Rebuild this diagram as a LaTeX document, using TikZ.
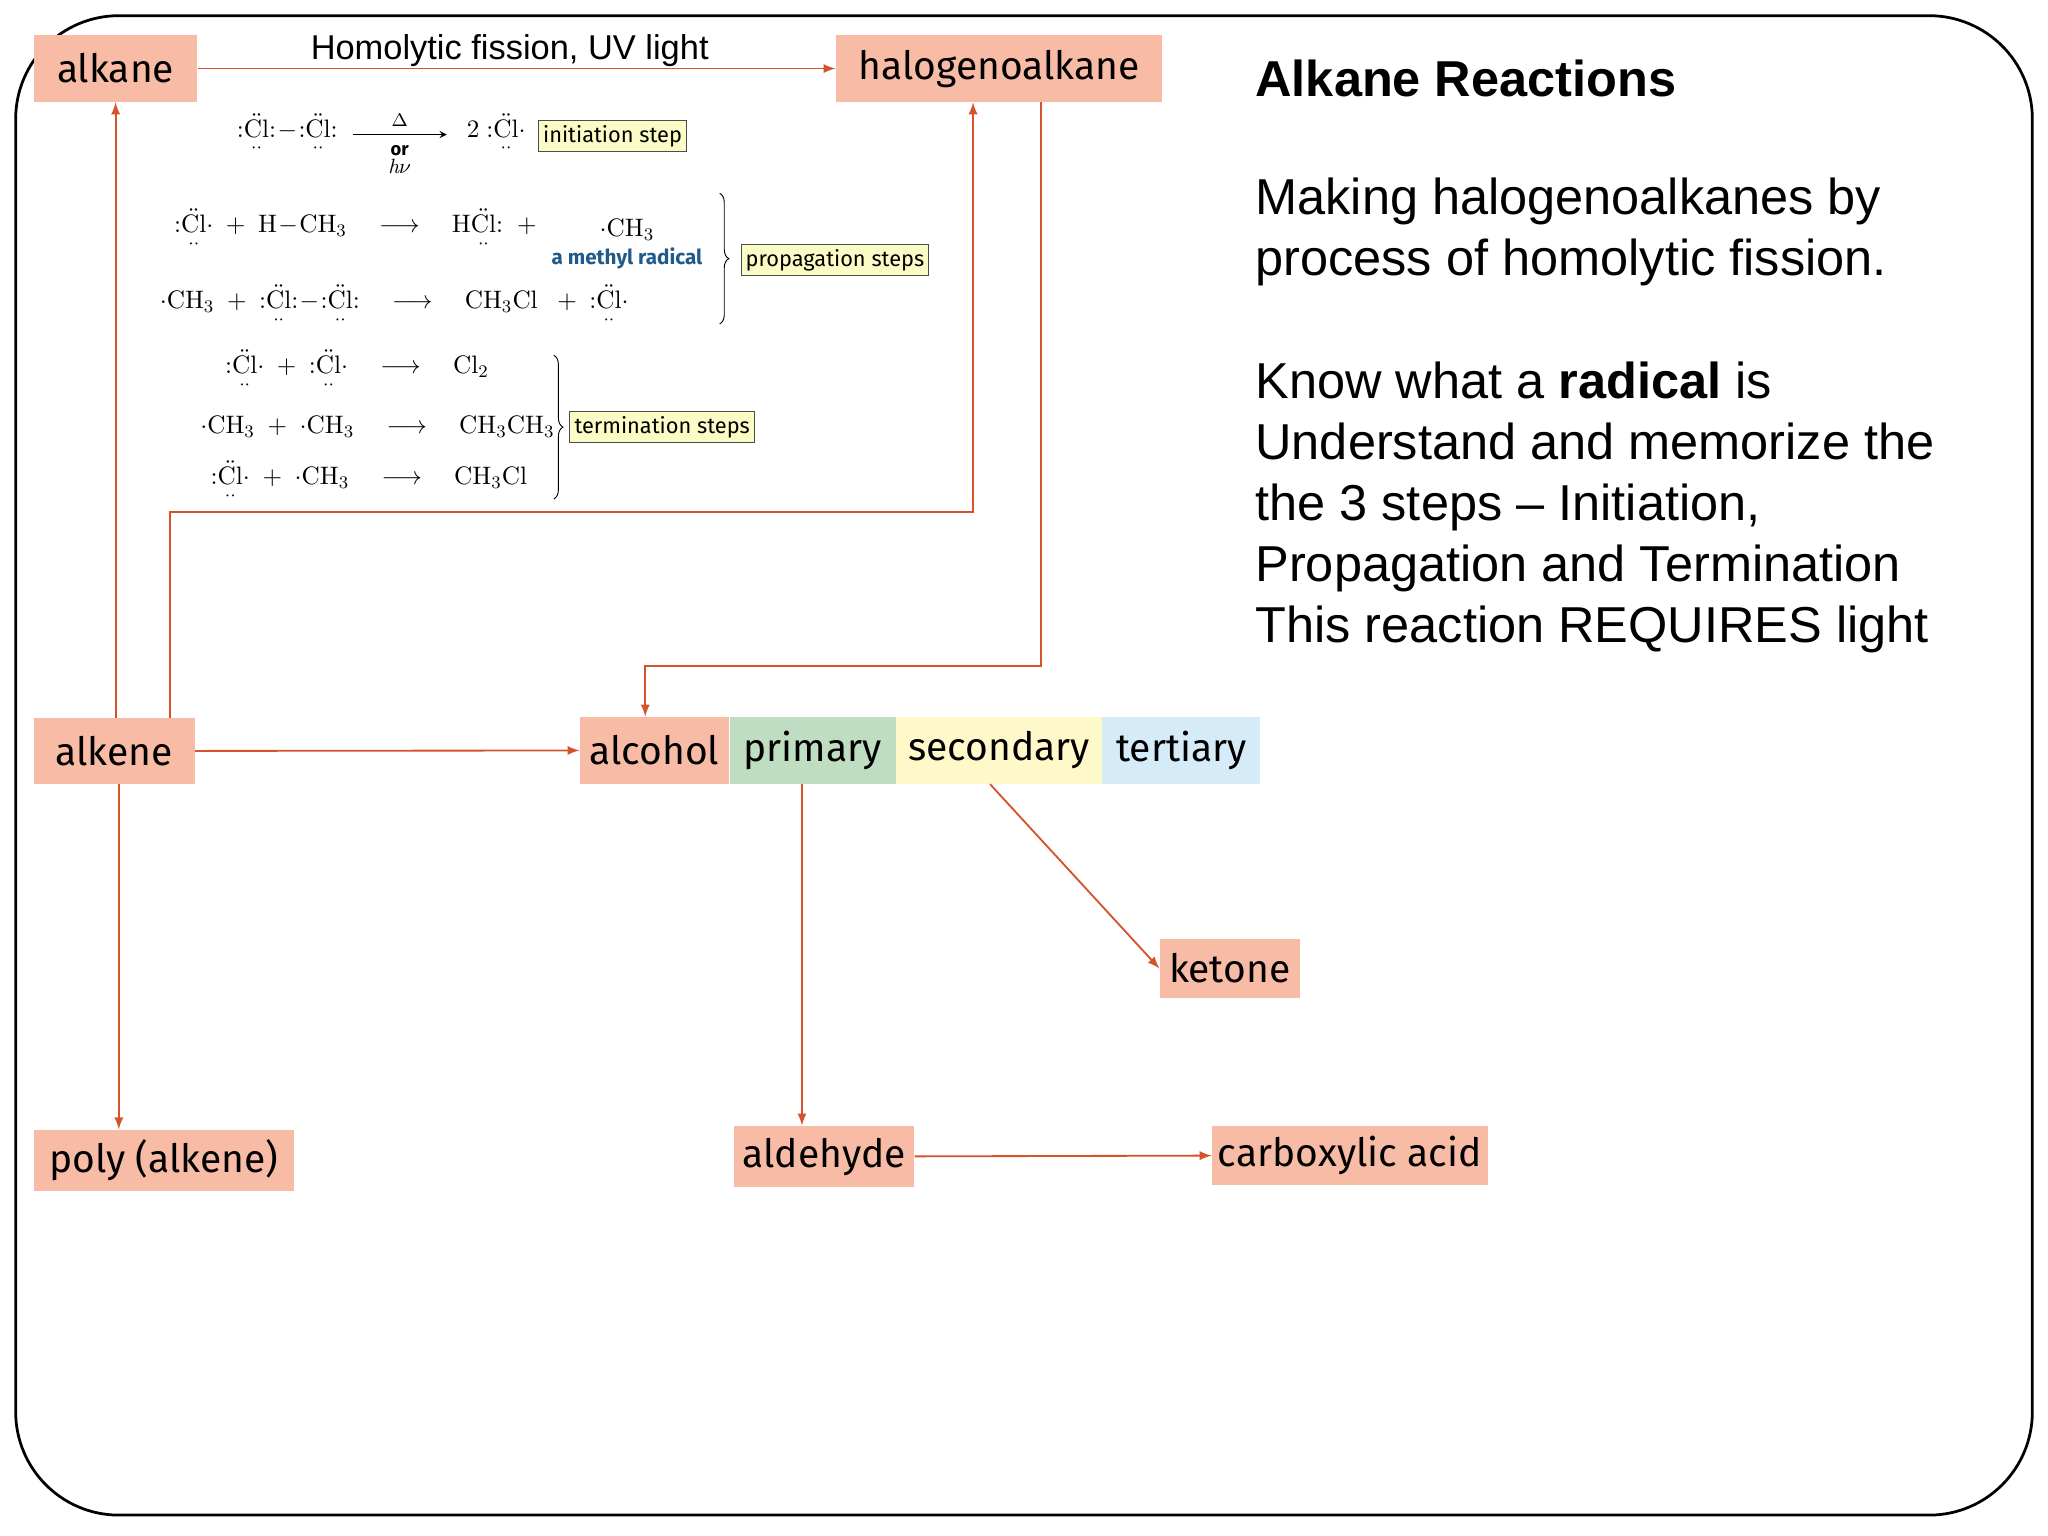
\documentclass[tikz,border=0pt]{standalone}
\usepackage{amsmath}
\usepackage{fontspec}
\setmainfont{Latin Modern Roman}
\newfontfamily\labelfont{Fira Sans}
\newfontfamily\arialfont{Liberation Sans}
\usetikzlibrary{positioning,decorations.pathreplacing}
\definecolor{salmon}{HTML}{F8BBA5}
\definecolor{arrowred}{HTML}{D4532C}
\definecolor{primgreen}{HTML}{BFDDC0}
\definecolor{secyellow}{HTML}{FFF8C8}
\definecolor{tertblue}{HTML}{D6EBF8}
\definecolor{stepfill}{HTML}{FBFBC6}
\definecolor{radblue}{HTML}{1F5A8A}
\newcommand\chl{\mathord{:}\underset{\cdot\cdot}{\ddot{\mathrm{Cl}}}}
\newcommand\chlr{\chl\mathord{\cdot}}
\newcommand\chlc{\chl\mathord{:}}
\begin{document}
\begin{tikzpicture}[x=0.02cm, y=-0.02cm,
  compound/.style={fill=salmon, inner sep=0pt, font=\labelfont\fontsize{17}{20}\selectfont},
  arrow/.style={-latex, arrowred, thick},
  stepbox/.style={draw=black!70, fill=stepfill, inner sep=2pt, font=\labelfont\fontsize{9.5}{11}\selectfont},
  eq/.style={font=\fontsize{11}{13}\selectfont, inner sep=0pt},
  body/.style={anchor=west, align=left, font=\arialfont\fontsize{22}{26.6}\selectfont}
]
\useasboundingbox (0,0) rectangle (1568,1176);
\draw[line width=1.2pt, rounded corners=45] (12,12) rectangle (1556,1160);

% compounds
\node[compound, minimum width=2.5cm, minimum height=1.02cm] (alkane) at (88.5,52.5) {alkane};
\node[compound, minimum width=5cm, minimum height=1.02cm] (halo) at (765,52.5) {halogenoalkane};
\node[compound, minimum width=2.46cm, minimum height=1cm] (alkene) at (87.5,575) {alkene};
\node[compound, minimum width=2.28cm, minimum height=1.02cm] (alcohol) at (501,574.5) {alcohol};
\node[compound, fill=primgreen, minimum width=2.54cm, minimum height=1.02cm, right=0pt of alcohol] (primary) {primary};
\node[compound, fill=secyellow, minimum width=3.14cm, minimum height=1.02cm, right=0pt of primary] (secondary) {secondary};
\node[compound, fill=tertblue, minimum width=2.42cm, minimum height=1.02cm, right=0pt of secondary] (tertiary) {tertiary};
\node[compound, minimum width=2.14cm, minimum height=0.9cm] (ketone) at (941.5,741.5) {ketone};
\node[compound, minimum width=3.98cm, minimum height=0.94cm] (poly) at (125.5,888.5) {poly (alkene)};
\node[compound, minimum width=2.76cm, minimum height=0.94cm] (aldehyde) at (631,885.5) {aldehyde};
\node[compound, minimum width=4.22cm, minimum height=0.9cm] (acid) at (1033.5,884.5) {carboxylic acid};

% connectors
\draw[arrow] (alkane) -- node[above=-3pt, black, font=\arialfont\fontsize{15}{18}\selectfont, xshift=-3pt]{Homolytic fission, UV light} (halo);
\draw[arrow] (alkene.north -| alkane) -- (alkane);
\draw[arrow] (alkene) -- (alcohol);
\coordinate (c1) at (130,392);
\coordinate (c2) at (745,392);
\draw[arrow] (alkene.north -| c1) -- (c1) -- (c2) -- (halo.south -| c2);
\coordinate (c3) at (797,510);
\coordinate (c4) at (494,510);
\draw[arrow] (halo.south -| c3) -- (c3) -- (c4) -- (alcohol.north -| c4);
\coordinate (c5) at (91,0);
\coordinate (c6) at (614,0);
\coordinate (c7) at (758,0);
\draw[arrow] (alkene.south -| c5) -- (poly.north -| c5);
\draw[arrow] (primary.south -| c6) -- (aldehyde.north -| c6);
\draw[arrow] (secondary.south -| c7) -- (ketone.west);
\draw[arrow] (aldehyde) -- (acid);

% mechanism
\node[eq] (r1a) at (220,103) {$\chlc\!-\!\chlc$};
\draw[-stealth] (270,103) -- (342,103);
\node[eq, font=\fontsize{8}{9}\selectfont] at (306,92) {$\Delta$};
\node[eq, font=\labelfont\bfseries\fontsize{8}{9}\selectfont, align=center] at (306,122) {or\\[-1pt]\normalfont\itshape\fontsize{9}{9}\selectfont h$\nu$};
\node[eq] (r1b) at (380,103) {$2\;\chlr$};
\node[stepbox, anchor=west] (init) at (412,104) {initiation step};

\node[eq, anchor=west] (r2a) at (133,176) {$\chlr\;+\;\mathrm{H}\!-\!\mathrm{CH_3}\quad\longrightarrow\quad\mathrm{H}\underset{\cdot\cdot}{\ddot{\mathrm{Cl}}}\mathord{:}\;\;+$};
\node[eq] (me) at (480,176) {$\cdot\mathrm{CH_3}$};
\node[eq, font=\labelfont\bfseries\fontsize{9}{10}\selectfont, text=radblue] (mer) at (480,198) {a methyl radical};
\node[eq, anchor=west] (r3a) at (122,234) {$\cdot\mathrm{CH_3}\;+\;\chlc\!-\!\chlc\quad\longrightarrow\quad\mathrm{CH_3Cl}\;\;+\;\chlr$};
\draw[decorate, decoration={brace, amplitude=4pt}] (551,148) -- (551,248);
\node[stepbox, anchor=west] (prop) at (567,199) {propagation steps};

\node[eq, anchor=west] (t1) at (172,284) {$\chlr\;+\;\chlr\quad\longrightarrow\quad\mathrm{Cl_2}$};
\node[eq, anchor=west] (t2) at (153,327) {$\cdot\mathrm{CH_3}\;+\;\cdot\mathrm{CH_3}\quad\longrightarrow\quad\mathrm{CH_3CH_3}$};
\node[eq, anchor=west] (t3) at (161,369) {$\chlr\;+\;\cdot\mathrm{CH_3}\quad\longrightarrow\quad\mathrm{CH_3Cl}$};
\draw[decorate, decoration={brace, amplitude=4pt}] (424,272) -- (424,382);
\node[stepbox, anchor=west] (term) at (436,327) {termination steps};

% text
\node[body, font=\arialfont\bfseries\fontsize{22}{26.6}\selectfont] (title) at (955,60) {Alkane Reactions};
\node[body, anchor=north west] (p1) at (955,130) {Making halogenoalkanes by\\process of homolytic fission.};
\node[body, anchor=north west] (p2) at (955,271) {Know what a \textbf{radical} is\\Understand and memorize the\\the 3 steps \textendash{} Initiation,\\Propagation and Termination\\This reaction REQUIRES light};
\end{tikzpicture}
\end{document}
